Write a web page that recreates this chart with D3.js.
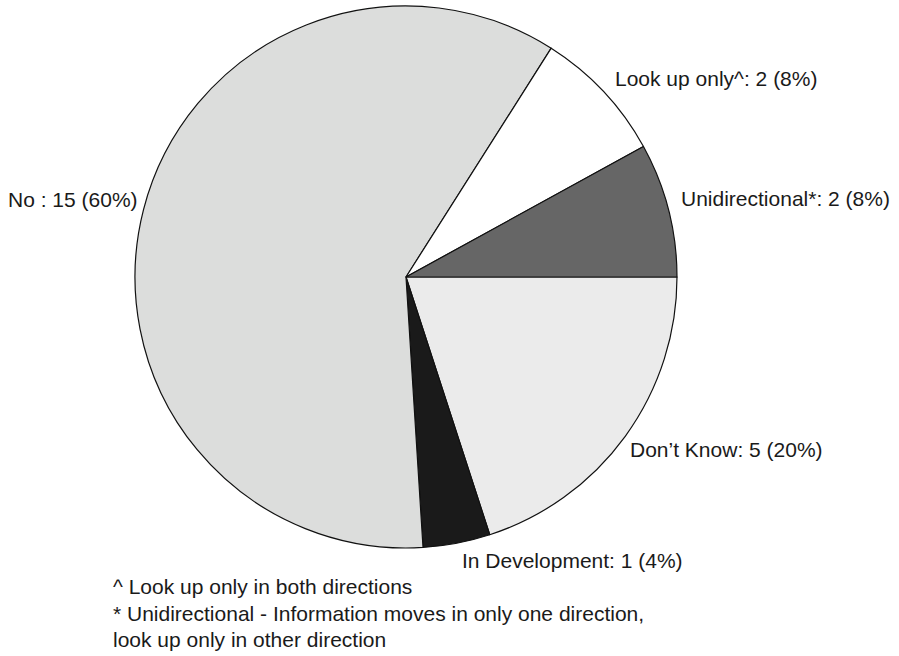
<!DOCTYPE html>
<html><head><meta charset="utf-8">
<script src="https://cdn.jsdelivr.net/npm/d3@7"></script>
<style>body{margin:0;background:#fff}svg{display:block}text{font-family:"Liberation Sans",Arial,sans-serif;fill:#1a1a1a}</style>
</head><body>
<svg id="c" width="899" height="656"></svg>
<script>
const categories = ["Don\u2019t Know", "In Development", "No ", "Look up only^", "Unidirectional*"];
const values = [5, 1, 15, 2, 2];
const colors = ["#ebebeb", "#1a1a1a", "#dcdddc", "#ffffff", "#666666"];
const labelPos = [[630,457],[462,568],[8,207],[615,86],[681,206]];
const footnotes = ["^ Look up only in both directions",
  "* Unidirectional - Information moves in only one direction,",
  "look up only in other direction"];

const svg = d3.select("#c");
const cx = 406, cy = 277, r = 271;
const total = d3.sum(values);
const pie = d3.pie().sort(null).value(d => d).startAngle(Math.PI/2).endAngle(Math.PI/2 + 2*Math.PI);
const arc = d3.arc().innerRadius(0).outerRadius(r);
const g = svg.append("g").attr("transform", `translate(${cx},${cy})`);
g.selectAll("path").data(pie(values)).join("path")
  .attr("d", arc).attr("fill", (d,i) => colors[i])
  .attr("stroke", "#111").attr("stroke-width", 1.2).attr("stroke-linejoin","round");

svg.selectAll("text.lbl").data(categories).join("text").attr("class","lbl")
  .attr("x", (d,i) => labelPos[i][0]).attr("y", (d,i) => labelPos[i][1])
  .attr("font-size", 21)
  .text((d,i) => `${d}: ${values[i]} (${Math.round(values[i]/total*100)}%)`);

svg.selectAll("text.fn").data(footnotes).join("text").attr("class","fn")
  .attr("x", 113).attr("y", (d,i) => 594 + i*26.5)
  .attr("font-size", 21).text(d => d);
</script>
</body></html>
